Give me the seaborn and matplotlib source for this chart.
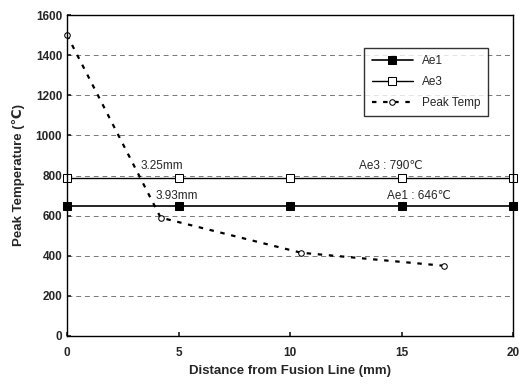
import matplotlib
matplotlib.use("Agg")
import matplotlib.pyplot as plt
import seaborn as sns
import pandas as pd

# Data
ae_x = [0, 5, 10, 15, 20]
ae1_vals = [646, 646, 646, 646, 646]
ae3_vals = [790, 790, 790, 790, 790]
peak_x = [0, 4.2, 10.5, 16.9]
peak_vals = [1500, 590, 415, 350]
x_ticks = [0, 5, 10, 15, 20]
y_ticks = [0, 200, 400, 600, 800, 1000, 1200, 1400, 1600]

sns.set_theme(style="white")
plt.rcParams['font.family'] = ['Liberation Sans', 'DejaVu Sans']

fig = plt.figure(figsize=(5.26, 3.85), dpi=100)
ax = fig.add_axes([67/526, 1-336/385, 446/526, 321/385])

df1 = pd.DataFrame({"x": ae_x, "y": ae1_vals})
df3 = pd.DataFrame({"x": ae_x, "y": ae3_vals})
dfp = pd.DataFrame({"x": peak_x, "y": peak_vals})

sns.lineplot(data=df1, x="x", y="y", ax=ax, color="black", lw=1.2,
             marker="s", markersize=5.5, markerfacecolor="black",
             markeredgecolor="black", label="Ae1", clip_on=False)
sns.lineplot(data=df3, x="x", y="y", ax=ax, color="black", lw=1.0,
             marker="s", markersize=5.5, markerfacecolor="white",
             markeredgecolor="black", label="Ae3", clip_on=False)
sns.lineplot(data=dfp, x="x", y="y", ax=ax, color="black", lw=1.6,
             linestyle=(0, (2, 3)), marker="o", markersize=4,
             markerfacecolor="white", markeredgecolor="black",
             label="Peak Temp", clip_on=False)

ax.set_xlim(0, 20)
ax.set_ylim(0, 1600)
ax.set_xticks(x_ticks)
ax.set_yticks(y_ticks)
ax.tick_params(axis="both", labelsize=8.5, length=3, direction="in",
               bottom=True, left=True)
for lab in ax.get_xticklabels() + ax.get_yticklabels():
    lab.set_fontweight("bold")
ax.tick_params(axis="x", pad=8)
ax.grid(axis="y", color="#777777", linestyle=(0, (5, 4)), lw=0.7)
ax.grid(axis="x", visible=False)
for s in ax.spines.values():
    s.set_color("black")
    s.set_linewidth(1.0)

ax.set_xlabel("Distance from Fusion Line (mm)", fontsize=9.5, fontweight="bold", labelpad=4)
ax.set_ylabel("Peak Temperature (℃)", fontsize=9.5, fontweight="bold", labelpad=8)

ax.text(3.3, 815, "3.25mm", fontsize=8.5, ha="left", va="bottom")
ax.text(3.95, 668, "3.93mm", fontsize=8.5, ha="left", va="bottom")
ax.text(14.5, 815, "Ae3 : 790℃", fontsize=8.5, ha="center", va="bottom")
ax.text(15.8, 668, "Ae1 : 646℃", fontsize=8.5, ha="center", va="bottom")

leg = ax.legend(loc="upper right", bbox_to_anchor=(0.957, 0.915), fontsize=8.5,
                frameon=True, fancybox=False, edgecolor="black",
                handlelength=3.5, borderpad=0.6, labelspacing=0.75)
leg.get_frame().set_linewidth(1.0)

fig.savefig("out.png", dpi=100)
